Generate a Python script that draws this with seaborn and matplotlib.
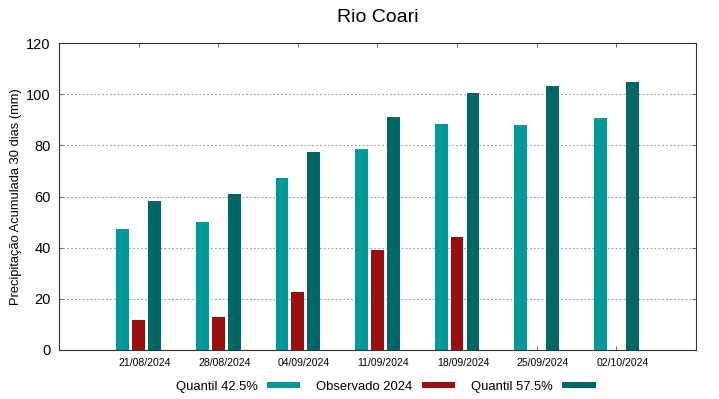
"""Rio Coari: 30-day accumulated precipitation, quantiles vs observed 2024."""

import matplotlib
matplotlib.use("Agg")
import matplotlib.pyplot as plt
import matplotlib.transforms as mtransforms
import numpy as np
import pandas as pd
import seaborn as sns

dates = ["21/08/2024", "28/08/2024", "04/09/2024", "11/09/2024",
         "18/09/2024", "25/09/2024", "02/10/2024"]
quantil_425 = [47.3, 50.0, 67.2, 78.6, 88.3, 88.0, 90.8]
observado_2024 = [11.8, 12.9, 22.7, 39.2, 44.2, np.nan, np.nan]
quantil_575 = [58.2, 61.0, 77.4, 91.0, 100.4, 103.2, 104.8]

series_names = ["Quantil 42.5%", "Observado 2024", "Quantil 57.5%"]
colors = ["#009999", "#990f0f", "#006666"]


def main() -> int:
    sns.set_theme(style="white")
    plt.rcParams["font.family"] = ["Liberation Sans", "DejaVu Sans"]
    plt.rcParams.update({"text.color": "black", "axes.labelcolor": "black",
                         "xtick.labelcolor": "black", "ytick.labelcolor": "black"})

    df = pd.DataFrame({
        "data": dates,
        series_names[0]: quantil_425,
        series_names[1]: observado_2024,
        series_names[2]: quantil_575,
    }).melt(id_vars="data", var_name="serie", value_name="mm")

    fig, ax = plt.subplots(figsize=(7.19, 3.99), dpi=100)
    fig.subplots_adjust(left=0.082, right=0.968, top=0.892, bottom=0.123)

    sns.barplot(data=df, x="data", y="mm", hue="serie", order=dates,
                hue_order=series_names, palette=colors, width=0.6, gap=0.2,
                linewidth=0, saturation=1, ax=ax)

    ax.set_xlim(-1, 7)
    ax.set_ylim(0, 120)
    ax.set_yticks(range(0, 121, 20))
    ax.set_title("Rio Coari", fontsize=14, pad=15, color="black")
    ax.set_xlabel("")
    ax.set_ylabel("Precipitação Acumulada 30 dias (mm)", fontsize=9.3, labelpad=3)

    ax.yaxis.grid(True, linestyle=(0, (1.5, 2)), color="#999999", linewidth=0.8)
    ax.set_axisbelow(True)
    for spine in ax.spines.values():
        spine.set_color("#333333")
        spine.set_linewidth(0.8)

    ax.tick_params(axis="y", labelsize=10.5, direction="in", length=3, width=0.6,
                   right=True, left=True, color="#555555", pad=6)
    ax.tick_params(axis="x", labelsize=7.5, direction="in", length=3, width=0.6,
                   bottom=True, top=True, color="#555555", pad=6)
    offset = mtransforms.ScaledTranslation(6 / 100, 0, fig.dpi_scale_trans)
    for label in ax.get_xticklabels():
        label.set_transform(label.get_transform() + offset)

    handles, labels = ax.get_legend_handles_labels()
    ax.legend(handles, labels, loc="upper center", bbox_to_anchor=(0.513, -0.075),
              ncol=3, frameon=False, markerfirst=False, fontsize=9.4,
              handlelength=2.6, handleheight=0.37, columnspacing=1.2,
              handletextpad=0.7, borderaxespad=0.2)

    fig.savefig("out.png", dpi=100)
    plt.close(fig)
    return 0


if __name__ == "__main__":
    raise SystemExit(main())
